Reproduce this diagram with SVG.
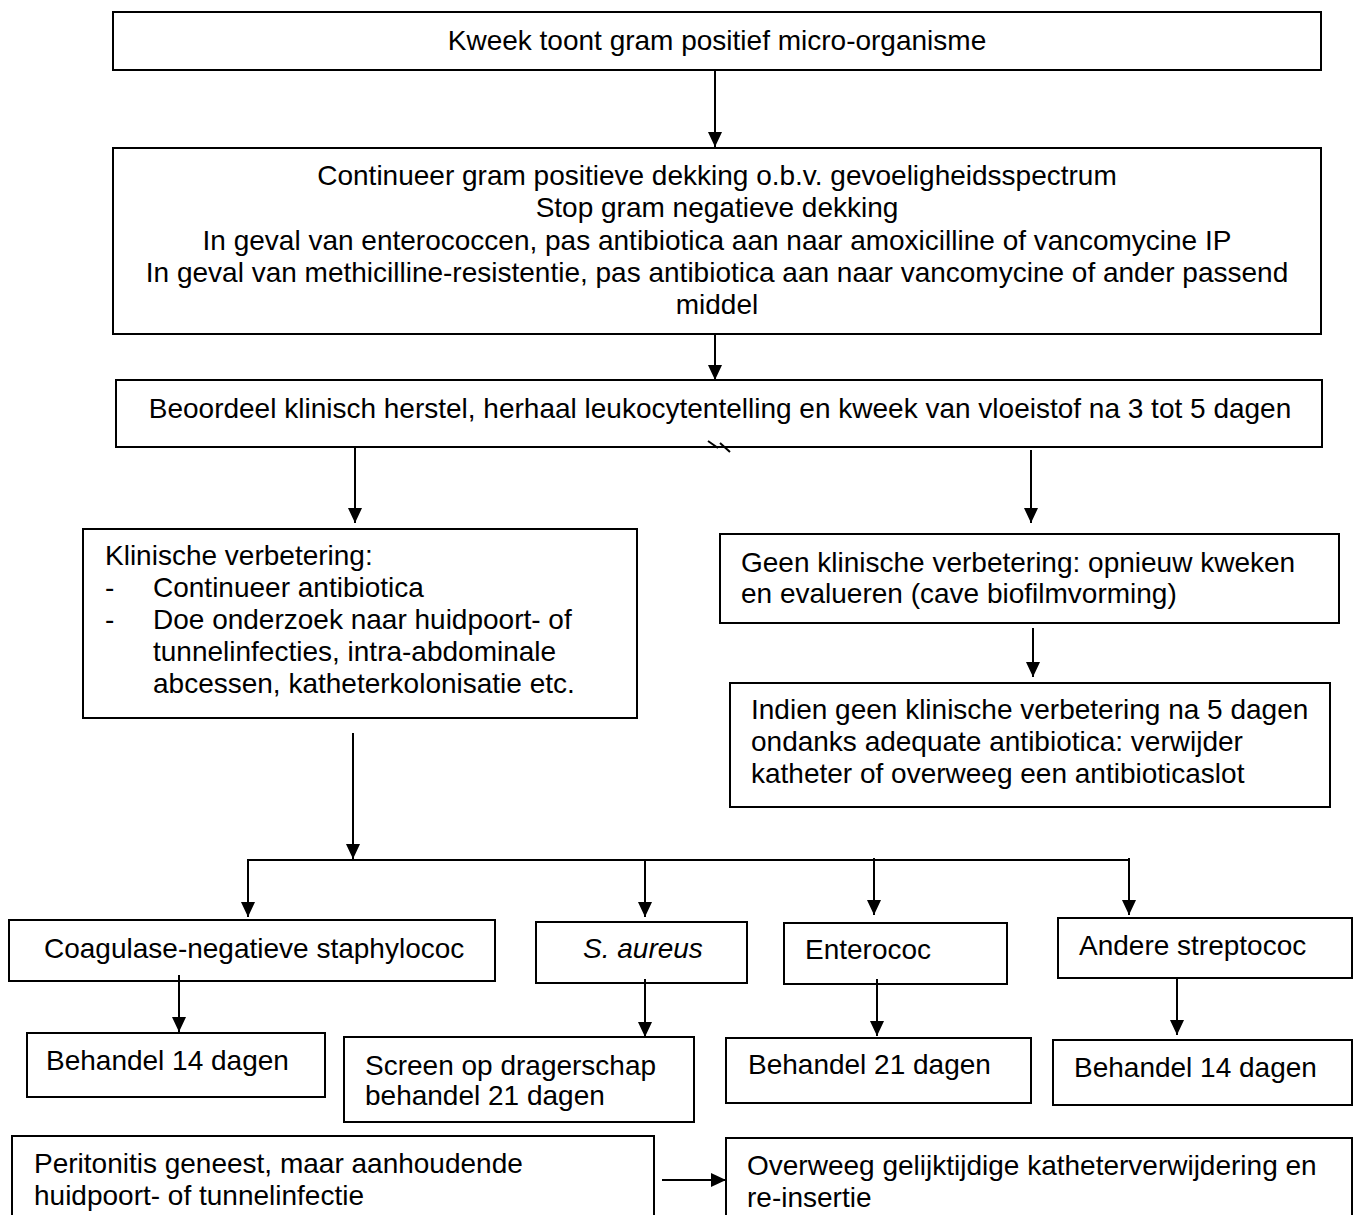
<svg xmlns="http://www.w3.org/2000/svg" width="1357" height="1215" viewBox="0 0 1357 1215">
<style>
.box{fill:#fff;stroke:#000;stroke-width:2}
text{font-family:"Liberation Sans",Arial,sans-serif;font-size:28px;fill:#000}
.c{text-anchor:middle}
.conn line,.conn path{stroke:#000;stroke-width:2;fill:none}
</style>
<defs>
<marker id="ah" markerUnits="userSpaceOnUse" viewBox="0 0 15 14" markerWidth="15" markerHeight="14" refX="15" refY="7" orient="auto">
<path d="M0,0 L15,7 L0,14 z" fill="#000"/>
</marker>
</defs>
<rect width="1357" height="1215" fill="#fff"/>

<g id="n1"><rect class="box" x="113" y="12" width="1208" height="58"/>
<text class="c" x="717" y="50">Kweek toont gram positief micro-organisme</text></g>

<g id="n2"><rect class="box" x="113" y="148" width="1208" height="186"/>
<text class="c" x="717" y="185">Continueer gram positieve dekking o.b.v. gevoeligheidsspectrum</text>
<text class="c" x="717" y="217">Stop gram negatieve dekking</text>
<text class="c" x="717" y="250">In geval van enterococcen, pas antibiotica aan naar amoxicilline of vancomycine IP</text>
<text class="c" x="717" y="282">In geval van methicilline-resistentie, pas antibiotica aan naar vancomycine of ander passend</text>
<text class="c" x="717" y="314">middel</text></g>

<g id="n3"><rect class="box" x="116" y="380" width="1206" height="67"/>
<text class="c" x="720" y="418">Beoordeel klinisch herstel, herhaal leukocytentelling en kweek van vloeistof na 3 tot 5 dagen</text></g>

<g id="n4"><rect class="box" x="83" y="529" width="554" height="189"/>
<text x="105" y="565">Klinische verbetering:</text>
<text x="105" y="597">-</text><text x="153" y="597">Continueer antibiotica</text>
<text x="105" y="629">-</text><text x="153" y="629">Doe onderzoek naar huidpoort- of</text>
<text x="153" y="661">tunnelinfecties, intra-abdominale</text>
<text x="153" y="693">abcessen, katheterkolonisatie etc.</text></g>

<g id="n5"><rect class="box" x="720" y="534" width="619" height="89"/>
<text x="741" y="572">Geen klinische verbetering: opnieuw kweken</text>
<text x="741" y="603">en evalueren (cave biofilmvorming)</text></g>

<g id="n6"><rect class="box" x="730" y="683" width="600" height="124"/>
<text x="751" y="719">Indien geen klinische verbetering na 5 dagen</text>
<text x="751" y="751">ondanks adequate antibiotica: verwijder</text>
<text x="751" y="783">katheter of overweeg een antibioticaslot</text></g>

<g id="n7"><rect class="box" x="9" y="920" width="486" height="61"/>
<text x="44" y="958">Coagulase-negatieve staphylococ</text></g>

<g id="n8"><rect class="box" x="536" y="922" width="211" height="61"/>
<text x="583" y="958" font-style="italic">S. aureus</text></g>

<g id="n9"><rect class="box" x="784" y="923" width="223" height="61"/>
<text x="805" y="959">Enterococ</text></g>

<g id="n10"><rect class="box" x="1058" y="918" width="294" height="60"/>
<text x="1079" y="955">Andere streptococ</text></g>

<g id="n11"><rect class="box" x="27" y="1033" width="298" height="64"/>
<text x="46" y="1070">Behandel 14 dagen</text></g>

<g id="n12"><rect class="box" x="344" y="1037" width="350" height="85"/>
<text x="365" y="1075">Screen op dragerschap</text>
<text x="365" y="1105">behandel 21 dagen</text></g>

<g id="n13"><rect class="box" x="726" y="1038" width="305" height="65"/>
<text x="748" y="1074">Behandel 21 dagen</text></g>

<g id="n14"><rect class="box" x="1053" y="1040" width="299" height="65"/>
<text x="1074" y="1077">Behandel 14 dagen</text></g>

<g id="n15"><rect class="box" x="12" y="1136" width="642" height="100"/>
<text x="34" y="1173">Peritonitis geneest, maar aanhoudende</text>
<text x="34" y="1205">huidpoort- of tunnelinfectie</text></g>

<g id="n16"><rect class="box" x="726" y="1138" width="626" height="100"/>
<text x="747" y="1175">Overweeg gelijktijdige katheterverwijdering en</text>
<text x="747" y="1207">re-insertie</text></g>

<g id="connectors" class="conn">
<line x1="715" y1="70" x2="715" y2="147" marker-end="url(#ah)"/>
<line x1="715" y1="335" x2="715" y2="380" marker-end="url(#ah)"/>
<line x1="355" y1="448" x2="355" y2="523" marker-end="url(#ah)"/>
<line x1="1031" y1="450" x2="1031" y2="523" marker-end="url(#ah)"/>
<line x1="1033" y1="628" x2="1033" y2="677" marker-end="url(#ah)"/>
<path d="M708,441 L718,448 M720,443 L730,452" stroke-width="1.5"/>
<line x1="353" y1="733" x2="353" y2="859" marker-end="url(#ah)"/>
<line x1="248" y1="860" x2="1128" y2="860"/>
<line x1="248" y1="859" x2="248" y2="917" marker-end="url(#ah)"/>
<line x1="645" y1="860" x2="645" y2="917" marker-end="url(#ah)"/>
<line x1="874" y1="858" x2="874" y2="915" marker-end="url(#ah)"/>
<line x1="1129" y1="858" x2="1129" y2="915" marker-end="url(#ah)"/>
<line x1="179" y1="975" x2="179" y2="1032" marker-end="url(#ah)"/>
<line x1="645" y1="979" x2="645" y2="1037" marker-end="url(#ah)"/>
<line x1="877" y1="979" x2="877" y2="1036" marker-end="url(#ah)"/>
<line x1="1177" y1="978" x2="1177" y2="1035" marker-end="url(#ah)"/>
<line x1="662" y1="1180" x2="726" y2="1180" marker-end="url(#ah)"/>
</g>
</svg>
